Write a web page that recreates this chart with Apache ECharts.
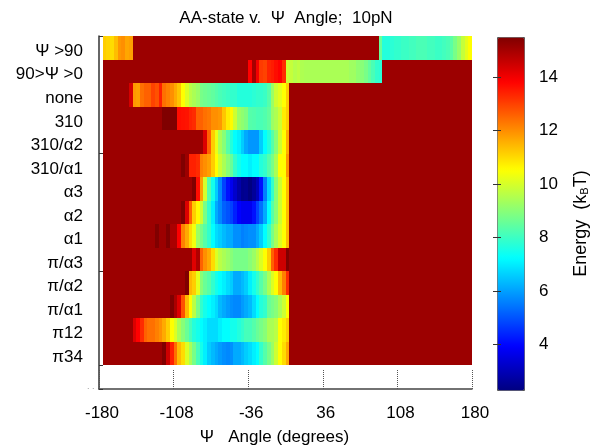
<!DOCTYPE html>
<html><head><meta charset="utf-8">
<style>html,body{margin:0;padding:0;background:#fff}#c{width:595px;height:447px}</style>
<script src="https://cdn.jsdelivr.net/npm/echarts@6/dist/echarts.min.js"></script>
</head><body><div id="c"></div>
<script>
const titleText = 'AA-state v.  Ψ  Angle;  10pN';
const stateLabels = ['Ψ >90','90>Ψ >0','none','310','310/α2','310/α1','α3','α2','α1','π/α3','π/α2','π/α1','π12','π34',''];
const xTicksMin = -180, xTicksMax = 180, xTickStep = 72;
const energyTicks = [4,6,8,10,12,14];
const energyMin = 2.3, energyMax = 15.5;
const plateau = 15.14;      // the capped energy that fills the rest of every row
const binStart = -176.4, binWidth = 3.6, binCount = 99;

// each row: energy values (kBT) per 3.6 degree bin, from a given first bin
const psi90Left = [11.2,11.1,11.0,11.4,11.9,12.0,11.7,11.8];
const psi90Right = [8.6,7.7,7.7,7.8,7.9,7.9,8.0,8.0,8.1,8.1,8.2,8.2,8.2,8.1,8.1,8.0,8.0,8.1,8.2,8.4,8.8,9.2,9.8,10.2,10.55];
const psi0Row = [13.85,15.0,14.0,13.1,13.0,13.4,13.5,13.7,13.85,13.3,9.9,9.8,9.6,9.7,9.5,9.45,9.45,9.45,9.45,9.45,9.45,9.45,9.45,9.45,9.45,9.45,9.45,9.3,9.3,9.1,9.0,8.8,8.5,8.2,7.9,7.8];
const noneRow = [14.4,11.9,11.8,12.4,12.6,12.6,13.0,12.8,13.44,12.4,12.2,12.0,11.65,11.3,10.55,10.1,9.65,9.45,9.25,8.8,8.7,8.6,8.5,8.35,8.2,8.1,8.0,7.9,7.9,7.7,7.7,7.7,7.7,7.8,7.9,7.9,8.0,8.35,9.25,9.9,10.2,10.55,11.2];
const r310Row = [15.5,15.5,15.5,15.5,13.7,13.65,13.6,13.4,13.3,12.6,12.6,12.4,12.3,12.0,12.0,11.9,11.3,10.8,10.6,9.9,9.25,9.1,8.9,8.35,8.3,8.2,8.2,8.3,8.5,9.25,9.5,9.9,10.8,11.2];
const r310a2Row = [14.3,12.6,11.2,10.3,9.45,9.0,8.35,7.7,7.25,7.05,6.6,6.15,5.9,5.9,5.9,6.6,7.25,7.7,8.35,9.0,9.9,10.55,11.6];
const r310a1Row = [15.5,15.14,13.44,13.44,13.3,12.2,12.0,11.8,11.2,10.55,9.9,9.45,9.0,8.6,7.9,7.5,7.25,7.25,7.05,7.25,7.25,7.7,7.9,8.35,8.8,9.45,10.55,10.55,11.9];
const a3Row = [15.5,13.7,11.8,10.0,8.35,7.5,6.6,5.7,4.8,4.15,3.75,3.29,2.85,2.47,2.53,2.3,2.63,3.07,4.15,5.6,6.8,7.9,9.0,9.9,10.55,11.45];
const a2Row = [15.5,14.3,12.6,11.2,10.6,9.9,8.8,7.9,7.05,6.15,5.7,5.2,5.0,4.8,4.35,3.95,3.75,3.75,3.75,4.15,4.8,5.4,6.15,7.25,8.35,9.0,9.9,10.55,11.45];
const a1Row = [15.5,15.14,15.14,15.5,14.95,14.95,13.9,12.2,11.65,11.0,10.4,9.25,8.8,8.35,7.9,7.25,6.8,6.6,6.35,6.15,6.15,5.8,5.8,5.6,5.7,5.8,5.8,6.15,6.6,7.25,7.9,8.8,9.45,10.1,10.55,11.45];
const paa3Row = [14.25,14.9,12.6,12.0,11.65,11.0,10.1,9.65,9.45,9.25,9.0,8.8,8.8,8.8,8.8,9.0,9.25,9.65,10.1,10.55,11.2,12.6,13.3,14.5,14.5,15.5];
const paa2Row = [15.5,11.5,11.2,10.2,9.0,8.6,8.35,7.9,7.5,7.25,7.05,6.8,6.6,6.15,6.15,6.35,6.6,7.05,7.5,7.9,8.35,8.8,9.45,10.1,10.55,11.45,12.2,13.3];
const paa1Row = [15.5,14.95,14.3,12.8,11.45,10.55,9.65,8.8,7.9,7.5,7.25,7.05,6.8,6.35,6.15,5.95,5.8,5.7,5.7,5.95,6.15,6.35,6.8,7.25,7.7,7.9,8.6,8.8,9.0,9.45,9.9,10.55];
const pi12Row = [14.3,13.85,13.3,12.6,12.4,12.4,12.2,12.0,11.65,11.2,10.55,10.1,9.45,9.0,8.6,8.15,7.7,7.5,7.25,7.05,6.8,6.8,6.8,7.05,7.25,7.25,7.5,7.5,7.7,7.9,8.15,8.15,8.35,8.6,8.8,9.0,9.45,9.45,9.65,10.55,10.8,11.2];
const pi34Row = [15.5,14.5,13.44,12.4,11.45,11.0,10.1,9.45,8.8,8.15,7.5,7.05,6.6,6.35,6.15,5.95,5.8,5.7,5.8,6.15,6.15,6.35,6.6,6.8,7.05,7.25,7.9,8.35,8.8,9.25,9.9,10.55,11.0,11.65];

const rowSegments = [
  [[0,psi90Left],[74,psi90Right]],
  [[39,psi0Row]],
  [[7,noneRow]],
  [[16,r310Row]],
  [[27,r310a2Row]],
  [[21,r310a1Row]],
  [[24,a3Row]],
  [[21,a2Row]],
  [[14,a1Row]],
  [[24,paa3Row]],
  [[22,paa2Row]],
  [[18,paa1Row]],
  [[8,pi12Row]],
  [[16,pi34Row]]
];
const cells = [];
rowSegments.forEach((segs, r) => {
  const vals = new Array(binCount).fill(plateau);
  segs.forEach(s => { s[1].forEach((v, i) => { vals[s[0] + i] = v; }); });
  vals.forEach((v, c) => cells.push([binStart + binWidth * c, r, v]));
});
const font = '"Liberation Sans", Arial, sans-serif';
const chart = echarts.init(document.getElementById('c'), null, {renderer:'canvas'});
chart.setOption({
  animation:false,
  backgroundColor:'#fff',
  title:{text:titleText,left:281,top:5,textAlign:'center',textStyle:{fontFamily:font,fontSize:17,fontWeight:'normal',color:'#000'}},
  graphic:[{type:'text',left:87,top:382,style:{text:'. .',fontSize:9,fill:'#999',fontFamily:font}}],
  grid:[
    {left:99,top:36,width:373,height:353,containLabel:false,outerBoundsMode:'none'},
    {left:497,top:37,width:27,height:353,containLabel:false,outerBoundsMode:'none'}
  ],
  xAxis:[
    {type:'value',gridIndex:0,min:xTicksMin,max:xTicksMax,interval:xTickStep,
     name:'Ψ   Angle (degrees)',nameLocation:'middle',nameGap:40,
     nameTextStyle:{fontFamily:font,fontSize:17,color:'#000',padding:[0,22,0,0]},
     axisLine:{show:true,onZero:false,lineStyle:{color:'#444',width:1.5}},
     axisTick:{show:true,inside:true,length:20,lineStyle:{color:'#555',type:'dotted'}},
     axisLabel:{fontFamily:font,fontSize:17,color:'#000',margin:16,hideOverlap:false,padding:[0,0,0,6]},
     splitLine:{show:false}},
    {type:'value',gridIndex:1,min:0,max:1,show:false}
  ],
  yAxis:[
    {type:'category',gridIndex:0,inverse:true,data:stateLabels,
     axisLine:{show:true,onZero:false,lineStyle:{color:'#333',width:1.5}},
     axisTick:{show:true,inside:true,length:4,interval:4,lineStyle:{color:'#333'}},
     axisLabel:{fontFamily:font,fontSize:17,color:'#000',margin:16,interval:0,verticalAlign:'top',padding:[-5,0,0,0]},
     splitLine:{show:false}},
    {type:'value',gridIndex:1,position:'right',min:energyMin,max:energyMax,
     name:'{a|Energy  (k}{b|B}{a|T)}',nameLocation:'middle',nameGap:48,nameRotate:90,
     nameTextStyle:{padding:[0,20,0,0],rich:{a:{fontFamily:font,fontSize:18,color:'#000'},b:{fontFamily:font,fontSize:11,color:'#000',verticalAlign:'bottom'}}},
     axisLine:{show:false},
     axisTick:{show:true,inside:true,length:4,customValues:energyTicks,lineStyle:{color:'#333'}},
     axisLabel:{fontFamily:font,fontSize:17,color:'#000',margin:15,customValues:energyTicks},
     splitLine:{show:false},z:10},
    {type:'value',gridIndex:1,position:'left',min:energyMin,max:energyMax,
     axisLine:{show:false},
     axisTick:{show:true,inside:true,length:4,customValues:energyTicks,lineStyle:{color:'#333'}},
     axisLabel:{show:false},
     splitLine:{show:false},z:10}
  ],
  visualMap:{
    type:'continuous',min:energyMin,max:energyMax,dimension:2,seriesIndex:0,
    left:497,top:37,itemWidth:27,itemHeight:353,padding:0,text:[],
    calculable:false,realtime:false,hoverLink:false,
    borderColor:'#555',borderWidth:1,
    inRange:{color:['#000080','#0000ff','#0080ff','#00ffff','#80ff80','#ffff00','#ff8000','#ff0000','#800000']}
  },
  series:[{
    type:'custom',xAxisIndex:0,yAxisIndex:0,data:cells,clip:true,silent:true,
    encode:{x:0,y:1},
    renderItem:function(params,api){
      const p=api.coord([api.value(0),api.value(1)]);
      const q=api.coord([api.value(0)+binWidth,api.value(1)]);
      const h=api.size([0,1])[1];
      const x0=Math.round(p[0]),x1=Math.round(q[0]);
      const y0=Math.round(p[1]-h/2),y1=Math.round(p[1]+h/2);
      return {type:'rect',shape:{x:x0,y:y0,width:x1-x0,height:y1-y0},
              style:{fill:api.visual('color')}};
    }
  }]
});
</script></body></html>
